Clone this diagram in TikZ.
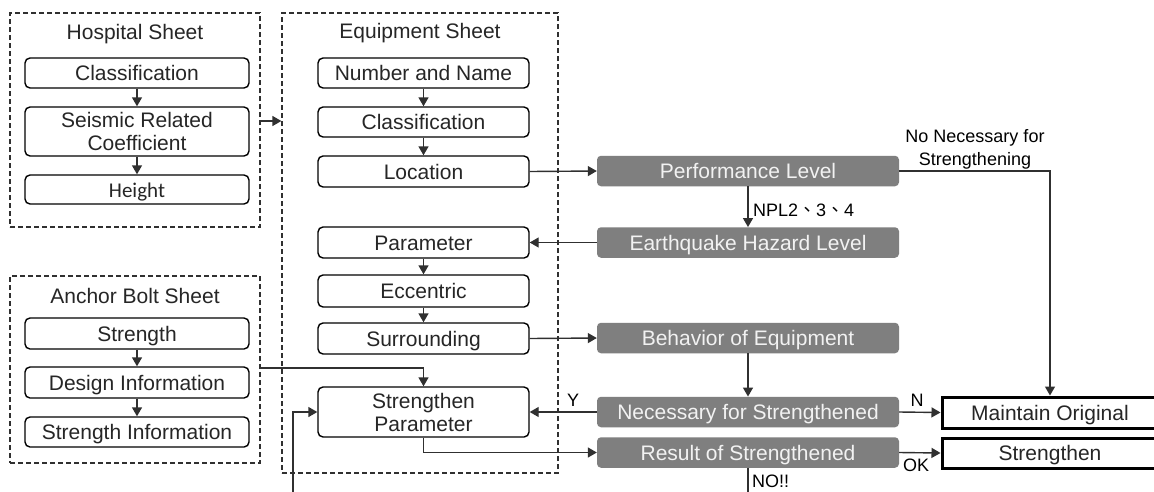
\documentclass[tikz,border=0pt]{standalone}
\usepackage{fontspec}
\setmainfont{Liberation Sans}
\newfontfamily\cjk{Noto Sans CJK TC}
\newfontfamily\calfont{Carlito}
\usetikzlibrary{arrows.meta}

\definecolor{inkc}{HTML}{262626}
\definecolor{linec}{HTML}{303030}
\definecolor{grayfill}{HTML}{7F7F7F}
\definecolor{graytext}{HTML}{F2F2F2}

\tikzset{
  every node/.style={font=\fontsize{21}{23}\selectfont, inner sep=0pt, text=inkc},
  sheet/.style={draw=linec, line width=1.3pt, dash pattern=on 5pt off 3pt},
  sheettitle/.style={anchor=base},
  item/.style={draw=black, line width=1.4pt, rounded corners=5pt,
    text height=18pt, text depth=3pt},
  item2/.style={draw=black, line width=1.4pt, rounded corners=5pt, align=center},
  grayitem/.style={fill=grayfill, rounded corners=4pt, text=graytext,
    minimum width=302pt, minimum height=30.5pt, text height=18pt, text depth=3pt},
  outcome/.style={draw=black, line width=3pt, minimum width=216pt,
    text height=18pt, text depth=3pt},
  lbl/.style={font=\fontsize{18}{23}\selectfont, text=black},
  arr/.style={draw=linec, line width=1.4pt, -{Triangle[length=9pt,width=10pt]}},
  wire/.style={draw=linec, line width=1.4pt},
}

\begin{document}
\begin{tikzpicture}[x=1pt, y=-1pt]
\useasboundingbox (0,0) rectangle (1154,491);
\clip (0,0) rectangle (1154,491);
\fill[white] (0,0) rectangle (1154,491);

% ---- dashed sheets ----
\node[sheet, minimum width=250pt, minimum height=214pt] (hosp) at (135,120) {};
\node[sheet, minimum width=276pt, minimum height=460pt] (equip) at (420,243) {};
\node[sheet, minimum width=250pt, minimum height=187pt] (anch) at (135,369.5) {};

\node[sheettitle] (thosp) at (135,39) {Hospital Sheet};
\node[sheettitle] (tequip) at (420,38) {Equipment Sheet};
\node[sheettitle] (tanch) at (135,303) {Anchor Bolt Sheet};

% ---- hospital sheet ----
\node[item, minimum width=224pt, minimum height=30pt] (hcls) at (137,73) {Classification};
\node[item2, minimum width=224pt, minimum height=49pt] (hseis) at (137,131.5) {Seismic Related\\Coefficient};
\node[item, minimum width=224pt, minimum height=29pt, font=\calfont\fontsize{21}{23}\selectfont] (hht) at (137,189.5) {Height};
\draw[arr] (hcls) -- (hseis);
\draw[arr] (hseis) -- (hht);

% ---- anchor bolt sheet ----
\node[item, minimum width=224pt, minimum height=31pt] (astr) at (137,333.5) {Strength};
\node[item, minimum width=224pt, minimum height=31pt] (ades) at (137,382.5) {Design Information};
\node[item, minimum width=224pt, minimum height=30pt] (ainf) at (137,432) {Strength Information};
\draw[arr] (astr) -- (ades);
\draw[arr] (ades) -- (ainf);

% ---- equipment sheet ----
\node[item, minimum width=211pt, minimum height=30pt] (num) at (423.5,73) {Number and Name};
\node[item, minimum width=211pt, minimum height=30pt] (ecls) at (423.5,122) {Classification};
\node[item, minimum width=211pt, minimum height=31pt] (loc) at (423.5,171.5) {Location};
\node[item, minimum width=211pt, minimum height=31pt] (par) at (423.5,242.5) {Parameter};
\node[item, minimum width=211pt, minimum height=32pt] (ecc) at (423.5,291) {Eccentric};
\node[item, minimum width=211pt, minimum height=31pt] (sur) at (423.5,338.5) {Surrounding};
\node[item2, minimum width=211pt, minimum height=50pt] (sp) at (423.5,412) {Strengthen\\Parameter};
\draw[arr] (num) -- (ecls);
\draw[arr] (ecls) -- (loc);
\draw[arr] (par) -- (ecc);
\draw[arr] (ecc) -- (sur);

% ---- evaluation chain ----
\node[grayitem] (perf) at (748,171) {Performance Level};
\node[grayitem] (eq) at (748,242.5) {Earthquake Hazard Level};
\node[grayitem] (beh) at (748,338) {Behavior of Equipment};
\node[grayitem] (nec) at (748,412) {Necessary for Strengthened};
\node[grayitem] (res) at (748,452.5) {Result of Strengthened};

\node[outcome, minimum height=31pt] (maint) at (1050,412.5) {Maintain Original};
\node[outcome, minimum height=30pt] (stren) at (1050,453) {Strengthen};

% ---- connectors ----
\coordinate (hospout) at (260,121);
\draw[arr] (hospout) -- (equip.west |- hospout);

\draw[arr] (loc.east) -- (perf.west);
\draw[arr] (perf.south) -- (eq.north);
\node[lbl, anchor=base west] (npl) at (753,216) {NPL2{\cjk 、}3{\cjk 、}4};
\draw[arr] (eq.west) -- (par.east);
\draw[arr] (sur.east) -- (beh.west);
\draw[arr] (beh.south) -- (nec.north);

\draw[arr] (perf.east) -| (maint.north);
\node[lbl, align=center] (nonec) at (975,149.5) {No Necessary for\\Strengthening};

\draw[arr] (nec.west) -- (sp.east);
\node[lbl, anchor=base] (ylbl) at (573,406) {Y};
\draw[arr] (nec.east) -- (maint.west);
\node[lbl, anchor=base] (nlbl) at (917,406) {N};

\coordinate (anchout) at (259,368);
\draw[arr] (anchout) -| (sp.north);

\coordinate (retry) at (293,500);
\draw[arr] (retry) |- (sp.west);

\draw[arr] (sp.south) |- (res.west);
\draw[arr] (res.east) -- (stren.west);
\node[lbl, anchor=base] (oklbl) at (916,471) {OK};

\coordinate (nofoot) at (748,500);
\draw[wire] (res.south) -- (nofoot);
\node[lbl, anchor=base west] (nolbl) at (752,487) {NO!!};
\end{tikzpicture}
\end{document}
